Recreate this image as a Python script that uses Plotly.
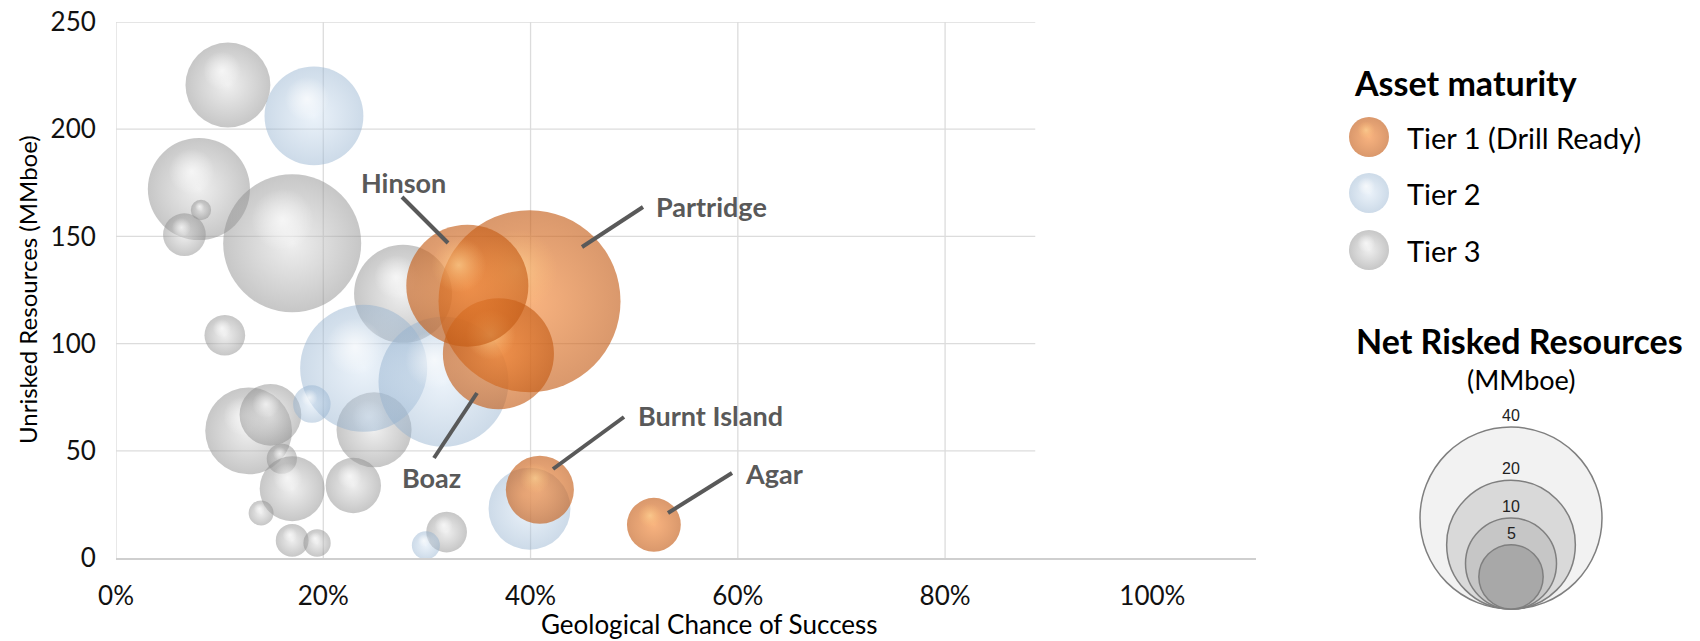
import numpy as np
import plotly.graph_objects as go

# ---------------- data ----------------
# Tier 1 (drill ready) prospects, drawn in this order
tier1_names = ["Partridge", "Boaz", "Hinson", "Burnt Island", "Agar"]
tier1_cos = [0.399, 0.369, 0.339, 0.409, 0.519]
tier1_unrisked = [119.8, 95.3, 127.0, 31.8, 15.5]
tier1_net = [40.0, 14.9, 18.0, 5.6, 3.5]

# Tier 2 prospects
tier2_cos = [0.191, 0.239, 0.316, 0.189, 0.299, 0.399]
tier2_unrisked = [206.2, 88.5, 82.2, 71.8, 5.9, 23.0]
tier2_net = [11.8, 19.5, 20.4, 1.7, 0.95, 8.1]

# Tier 3 leads
tier3_cos = [0.108, 0.080, 0.082, 0.066, 0.170, 0.277, 0.105, 0.128, 0.149,
             0.249, 0.160, 0.170, 0.229, 0.140, 0.170, 0.194, 0.319]
tier3_unrisked = [220.6, 172.1, 162.3, 150.8, 146.8, 123.2, 103.9, 59.3, 66.8,
                  59.8, 46.3, 32.3, 33.8, 21.0, 8.2, 7.0, 12.1]
tier3_net = [8.7, 12.6, 0.5, 2.2, 23.0, 11.6, 2.0, 9.1, 4.6,
             6.8, 1.1, 5.1, 3.7, 0.75, 1.3, 0.9, 2.0]

x_ticks = [0.0, 0.2, 0.4, 0.6, 0.8, 1.0]
x_ticklabels = ["0%", "20%", "40%", "60%", "80%", "100%"]
y_ticks = [0, 50, 100, 150, 200, 250]
legend_labels = ["Tier 1 (Drill Ready)", "Tier 2", "Tier 3"]
size_legend_values = [40, 20, 10, 5]

# ---------------- layout geometry (pixels) ----------------
FIG_W, FIG_H = 1700, 641
PLOT_L, PLOT_R, PLOT_T, PLOT_B = 116, 1256, 22, 558
X_RANGE = [0.0, 1.1]
Y_RANGE = [0, 250]
GRID_X_END = 0.887          # gridded region stops short of the axis end
PX_PER_X = (PLOT_R - PLOT_L) / (X_RANGE[1] - X_RANGE[0])
PX_PER_Y = (PLOT_B - PLOT_T) / (Y_RANGE[1] - Y_RANGE[0])

D_MAX_PX = 182.0            # bubble diameter for the reference volume
V_REF = 40.0

FONT = "Lato"
LABEL_GREY = "#595959"


def diameter(v):
    return D_MAX_PX * np.sqrt(v / V_REF)


STYLE = {
    1: dict(edge="rgba(196,92,22,0.9)", core="rgba(244,134,52,0.9)",
            glint="rgba(255,214,150,0.95)", glint_edge="rgba(255,190,120,0)"),
    2: dict(edge="rgba(146,176,206,0.66)", core="rgba(212,228,244,0.66)",
            glint="rgba(255,255,255,1)", glint_edge="rgba(255,255,255,0)"),
    3: dict(edge="rgba(140,140,140,0.7)", core="rgba(222,222,222,0.7)",
            glint="rgba(255,255,255,1)", glint_edge="rgba(255,255,255,0)"),
}


def sphere(cx, cy, d, tier, pixel_axes=False):
    """One glossy bubble: a shaded body plus an off-centre glint."""
    s = STYLE[tier]
    if pixel_axes:
        gx, gy = cx - 0.07 * d, cy - 0.17 * d
        xa, ya = "x2", "y2"
    else:
        gx, gy = cx - 0.07 * d / PX_PER_X, cy + 0.17 * d / PX_PER_Y
        xa, ya = "x", "y"
    return go.Scatter(
        x=[cx, gx], y=[cy, gy], xaxis=xa, yaxis=ya, mode="markers",
        marker=dict(size=[d, 0.45 * d], color=[s["edge"], s["glint_edge"]],
                    gradient=dict(type="radial", color=[s["core"], s["glint"]]),
                    line=dict(width=0)),
        hoverinfo="skip", showlegend=False, cliponaxis=False)


fig = go.Figure()

for xs, ys, vs, tier in [(tier3_cos, tier3_unrisked, tier3_net, 3),
                         (tier2_cos, tier2_unrisked, tier2_net, 2),
                         (tier1_cos, tier1_unrisked, tier1_net, 1)]:
    for x, y, v in zip(xs, ys, vs):
        fig.add_trace(sphere(x, y, diameter(v), tier))

# legend spheres (pixel overlay axes)
legend_x = 1369
legend_y = [137, 193, 250]
for i, yy in enumerate(legend_y):
    fig.add_trace(sphere(legend_x, yy, 40, i + 1, pixel_axes=True))

shapes = []
grid_col = "#DCDCDC"
for yv in y_ticks[1:]:
    shapes.append(dict(type="line", xref="x", yref="y", x0=0, x1=GRID_X_END,
                       y0=yv, y1=yv, line=dict(color=grid_col, width=1.3), layer="below"))
for xv in x_ticks[:-1]:
    shapes.append(dict(type="line", xref="x", yref="y", x0=xv, x1=xv,
                       y0=Y_RANGE[0], y1=Y_RANGE[1], line=dict(color=grid_col, width=1.3),
                       layer="below"))

# leader lines and prospect labels
label_pos = {
    "Partridge": ((711, 206), (643, 207, 582, 247)),
    "Hinson": ((403, 182), (402, 197, 448, 243)),
    "Boaz": ((431, 477), (434, 458, 477, 393)),
    "Burnt Island": ((710, 415), (624, 417, 553, 469)),
    "Agar": ((774, 473), (732, 473, 668, 513)),
}
annotations = []
for name in tier1_names:
    (tx, ty), (x0, y0, x1, y1) = label_pos[name]
    shapes.append(dict(type="line", xref="x2", yref="y2", x0=x0, y0=y0, x1=x1, y1=y1,
                       line=dict(color=LABEL_GREY, width=4), layer="above"))
    annotations.append(dict(xref="x2", yref="y2", x=tx, y=ty, text="<b>%s</b>" % name,
                            showarrow=False, font=dict(family=FONT, size=27, color=LABEL_GREY)))

# size legend: nested circles sharing a common bottom
size_cx, size_bottom = 1511, 609
size_fills = ["#F2F2F2", "#D9D9D9", "#C6C6C6", "#A8A8A8"]
for v, fill in zip(size_legend_values, size_fills):
    d = diameter(v)
    shapes.append(dict(type="circle", xref="x2", yref="y2",
                       x0=size_cx - d / 2, x1=size_cx + d / 2,
                       y0=size_bottom - d, y1=size_bottom,
                       fillcolor=fill, line=dict(color="#7F7F7F", width=1.5), layer="above"))
    annotations.append(dict(xref="x2", yref="y2", x=size_cx, y=size_bottom - d - 1,
                            yanchor="bottom", text=str(v), showarrow=False,
                            font=dict(family="Liberation Sans", size=16, color="#222222")))

# legend texts
annotations.append(dict(xref="x2", yref="y2", x=1352, y=82, xanchor="left",
                        text="<b>Asset maturity</b>", showarrow=False,
                        font=dict(family=FONT, size=34, color="#000000")))
for lab, yy in zip(legend_labels, legend_y):
    annotations.append(dict(xref="x2", yref="y2", x=1405, y=yy, xanchor="left",
                            text=lab, showarrow=False,
                            font=dict(family=FONT, size=29, color="#000000")))
annotations.append(dict(xref="x2", yref="y2", x=1519, y=340,
                        text="<b>Net Risked Resources</b>", showarrow=False,
                        font=dict(family=FONT, size=34, color="#000000")))
annotations.append(dict(xref="x2", yref="y2", x=1521, y=379, text="(MMboe)",
                        showarrow=False, font=dict(family=FONT, size=27, color="#000000")))

# axis titles
annotations.append(dict(xref="x2", yref="y2", x=709, y=624,
                        text="Geological Chance of Success", showarrow=False,
                        font=dict(family=FONT, size=26, color="#000000")))
annotations.append(dict(xref="x2", yref="y2", x=27, y=290, textangle=-90,
                        text="Unrisked Resources (MMboe)", showarrow=False,
                        font=dict(family=FONT, size=24, color="#000000")))

fig.update_layout(
    width=FIG_W, height=FIG_H,
    margin=dict(l=0, r=0, t=0, b=0, autoexpand=False),
    paper_bgcolor="white", plot_bgcolor="rgba(0,0,0,0)",
    showlegend=False,
    xaxis=dict(domain=[PLOT_L / FIG_W, PLOT_R / FIG_W], range=X_RANGE, automargin=False,
               tickvals=x_ticks, ticktext=x_ticklabels, showgrid=False, zeroline=False,
               showline=True, linecolor="#CFCFCF", linewidth=1.5,
               ticks="outside", ticklen=14, tickcolor="rgba(0,0,0,0)",
               tickfont=dict(family=FONT, size=26, color="#111111"), fixedrange=True),
    yaxis=dict(domain=[1 - PLOT_B / FIG_H, 1 - PLOT_T / FIG_H], range=Y_RANGE, automargin=False,
               tickvals=y_ticks, showgrid=False, zeroline=False, showline=False,
               ticks="outside", ticklen=14, tickcolor="rgba(0,0,0,0)",
               tickfont=dict(family=FONT, size=26, color="#111111"), fixedrange=True),
    xaxis2=dict(domain=[0, 1], range=[0, FIG_W], visible=False, anchor="y2",
                automargin=False, fixedrange=True),
    yaxis2=dict(domain=[0, 1], range=[FIG_H, 0], visible=False, anchor="x2",
                automargin=False, fixedrange=True),
    shapes=shapes,
    annotations=annotations,
)

fig.write_html("out.html")
